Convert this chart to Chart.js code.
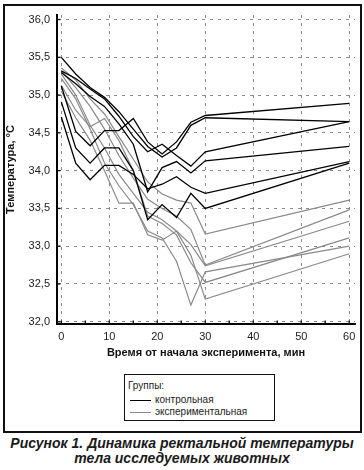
<!DOCTYPE html>
<html><head><meta charset="utf-8">
<script src="https://cdn.jsdelivr.net/npm/chart.js@4.4.1/dist/chart.umd.min.js"></script>
<style>
body{margin:0;background:#fff;}
#wrap{position:relative;width:364px;height:470px;font-family:"Liberation Sans",Arial,sans-serif;color:#111;}
#c{position:absolute;left:0;top:0;}
#frame{position:absolute;left:3px;top:4px;width:359px;height:429px;border:2px solid #111;box-sizing:border-box;pointer-events:none;}
#legend{position:absolute;left:124px;top:374px;width:151px;height:47px;border:1px solid #111;box-sizing:border-box;background:#fff;font-size:10px;color:#222;}
#legend .hd{position:absolute;left:3px;top:5px;}
#legend .it{position:absolute;left:5px;height:12px;line-height:12px;}
#legend .it span.ln{display:inline-block;width:21px;height:0;vertical-align:middle;margin-right:4px;}
#cap{position:absolute;left:0;top:436px;width:364px;text-align:center;font-weight:bold;font-style:italic;font-size:14px;line-height:15px;color:#1a1a1a;}
</style></head>
<body><div id="wrap">
<canvas id="c" width="364" height="370"></canvas>
<div id="frame"></div>
<div id="legend">
 <div class="hd">Группы:</div>
 <div class="it" style="top:19px"><span class="ln" style="border-top:1.5px solid #000"></span>контрольная</div>
 <div class="it" style="top:31px"><span class="ln" style="border-top:1px solid #8a8a8a"></span>экспериментальная</div>
</div>
<div id="cap">Рисунок 1. Динамика ректальной температуры<br>тела исследуемых животных</div>
</div>
<script>
const times = [0,3,6,9,12,15,18,21,24,27,30,60];
// control group (black)
const control1 = [35.50,35.28,35.10,34.97,34.78,34.55,34.32,34.18,34.30,34.60,34.70,34.65];
const control2 = [35.32,35.22,35.08,34.95,34.72,34.45,34.25,34.35,34.20,34.06,34.25,34.65];
const control3 = [35.12,34.52,34.33,34.53,34.53,34.69,34.38,34.22,34.38,34.64,34.73,34.89];
const control4 = [35.30,35.15,34.98,34.85,34.62,34.35,33.72,34.04,34.12,33.97,34.13,34.32];
const control5 = [34.91,34.30,34.10,34.30,34.30,34.00,33.35,33.55,33.38,33.70,33.50,34.10];
const control6 = [34.71,34.10,33.88,34.07,34.07,33.95,33.76,33.82,33.92,33.78,33.70,34.12];
// experimental group (gray)
const exper1 = [35.36,35.20,34.95,34.75,34.45,34.15,33.85,33.69,33.61,33.57,33.16,33.61];
const exper2 = [35.32,35.10,34.85,34.55,34.20,33.90,33.62,33.50,33.40,33.22,32.75,33.48];
const exper3 = [35.28,35.00,34.60,34.30,33.95,33.70,33.45,33.35,33.20,33.02,32.74,33.33];
const exper4 = [35.22,34.95,34.55,34.10,33.80,33.55,33.20,33.11,32.80,32.22,32.66,33.00];
const exper5 = [35.13,34.80,34.58,34.69,34.40,34.00,33.40,33.30,33.15,32.78,32.52,33.11];
const exper6 = [35.05,34.70,34.40,34.00,33.57,33.57,33.15,33.08,33.20,32.88,32.30,32.90];
const xTicks = [0,10,20,30,40,50,60];
const xMinorTicks = [0,5,10,15,20,25,30,35,40,45,50,55,60];
const yTicks = [32.0,32.5,33.0,33.5,34.0,34.5,35.0,35.5,36.0];

const FONT = '"Liberation Sans", Arial, sans-serif';
const controlSeries = [control1,control2,control3,control4,control5,control6];
const experSeries = [exper1,exper2,exper3,exper4,exper5,exper6];
const mk = (arr,color,w) => ({data: times.map((t,i)=>({x:t,y:arr[i]})), borderColor:color, borderWidth:w, pointRadius:0, tension:0, fill:false});
const datasets = [
  ...controlSeries.map(a=>mk(a,'#000',1.3)),
  ...experSeries.map(a=>mk(a,'#8a8a8a',1.2))
];

const innerTicks = {
  id:'innerTicks',
  afterDraw(chart){
    const {ctx, scales:{x,y}} = chart;
    ctx.save(); ctx.strokeStyle='#111'; ctx.lineWidth=1.3;
    xMinorTicks.forEach(v=>{const px=x.getPixelForValue(v); ctx.beginPath(); ctx.moveTo(px,y.bottom); ctx.lineTo(px,y.bottom-3.5); ctx.stroke();});
    yTicks.forEach(v=>{const py=y.getPixelForValue(v); ctx.beginPath(); ctx.moveTo(x.left,py); ctx.lineTo(x.left+3.5,py); ctx.stroke();});
    ctx.restore();
  }
};

new Chart(document.getElementById('c'), {
  type:'line',
  data:{datasets},
  plugins:[innerTicks],
  options:{
    responsive:false, animation:false, devicePixelRatio:1,
    layout:{padding:{left:0,right:9,top:15,bottom:6}},
    plugins:{legend:{display:false},tooltip:{enabled:false}},
    scales:{
      x:{type:'linear',min:-0.9,max:61.2,
        afterBuildTicks:s=>{s.ticks=xTicks.map(v=>({value:v}));},
        afterFit:s=>{s.height=40;},
        grid:{color:'#8c8c8c',lineWidth:1,drawTicks:false},
        border:{display:true,color:'#000',width:2,dash:[3,5]},
        ticks:{padding:6,color:'#222',font:{family:FONT,size:11},callback:v=>String(v)},
        title:{display:true,text:'Время от начала эксперимента, мин',color:'#111',font:{family:FONT,size:11,weight:'bold'},padding:{top:0,bottom:4}}
      },
      y:{type:'linear',min:31.97,max:36.06,
        afterBuildTicks:s=>{s.ticks=yTicks.map(v=>({value:v}));},
        afterFit:s=>{s.width=57;},
        grid:{color:'#8c8c8c',lineWidth:1,drawTicks:false},
        border:{display:true,color:'#000',width:2,dash:[3,5]},
        ticks:{padding:7,color:'#222',font:{family:FONT,size:11},callback:v=>v.toFixed(1).replace('.',',')},
        title:{display:true,text:'Температура, °C',color:'#111',font:{family:FONT,size:11,weight:'bold'},padding:{top:4,bottom:0}}
      }
    }
  }
});
</script>
</body></html>
